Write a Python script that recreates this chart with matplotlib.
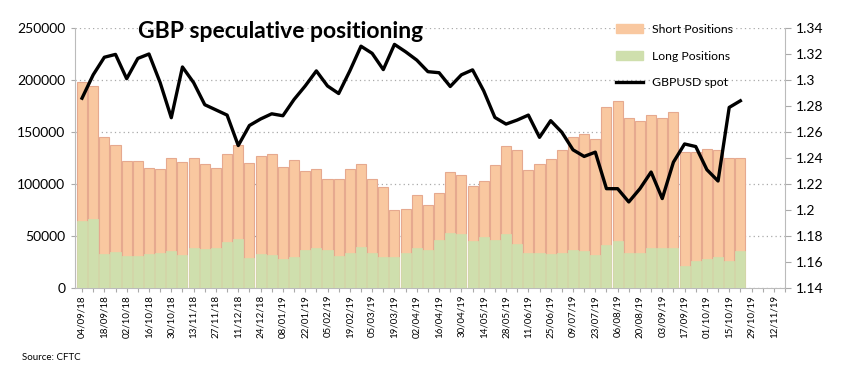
import numpy as np
import matplotlib
matplotlib.use("Agg")
import matplotlib.pyplot as plt
from matplotlib.patches import Patch
from matplotlib.lines import Line2D

plt.rcParams['font.family'] = ['Lato', 'DejaVu Sans']

# weekly CFTC data, 04/09/18 onwards
short_pos = [198400, 194300, 145500, 137300, 122000, 122000, 115000, 114300, 124900, 121000,
             124900, 119100, 115300, 128400, 137600, 120100, 127400, 128400, 116300, 122900,
             112400, 114300, 104800, 104800, 114300, 118800, 104800, 96800, 74800, 75800,
             89500, 79900, 91400, 111100, 108900, 98100, 102900, 118500, 136300, 132800,
             113700, 119100, 123900, 132800, 145500, 148100, 143000, 173600, 180000, 163400,
             160200, 166300, 163400, 168800, 130300, 131200, 133800, 132800, 124900, 124900]

long_pos = [64000, 65900, 32800, 34700, 30900, 30900, 32800, 34100, 36000, 32200,
            38500, 37600, 38500, 44300, 47000, 29200, 33000, 32000, 28000, 30000,
            36400, 38600, 36400, 30600, 33200, 39500, 33800, 30000, 30000, 33200,
            38000, 36400, 46600, 53000, 52300, 45500, 49200, 46200, 51900, 42000,
            33400, 33400, 32800, 33400, 36600, 36000, 31900, 41400, 45200, 34100,
            34100, 38200, 38200, 38200, 21300, 25500, 28000, 29600, 26100, 36000]

gbpusd = [1.286, 1.304, 1.3175, 1.3197, 1.301, 1.3166, 1.320, 1.298, 1.271, 1.310,
          1.298, 1.281, 1.277, 1.273, 1.2496, 1.265, 1.270, 1.274, 1.2725, 1.285,
          1.2954, 1.307, 1.2954, 1.2896, 1.307, 1.326, 1.3205, 1.308, 1.3274, 1.3217,
          1.3153, 1.3064, 1.3056, 1.295, 1.3040, 1.3078, 1.2916, 1.2712, 1.2661, 1.2692,
          1.273, 1.2559, 1.2687, 1.2598, 1.2463, 1.2412, 1.2445, 1.2164, 1.2164, 1.2062,
          1.2164, 1.2292, 1.2088, 1.2368, 1.2508, 1.2488, 1.231, 1.2223, 1.2789, 1.284]

date_labels = ["04/09/18", "18/09/18", "02/10/18", "16/10/18", "30/10/18", "13/11/18",
               "27/11/18", "11/12/18", "24/12/18", "08/01/19", "22/01/19", "05/02/19",
               "19/02/19", "05/03/19", "19/03/19", "02/04/19", "16/04/19", "30/04/19",
               "14/05/19", "28/05/19", "11/06/19", "25/06/19", "09/07/19", "23/07/19",
               "06/08/19", "20/08/19", "03/09/19", "17/09/19", "01/10/19", "15/10/19",
               "29/10/19", "12/11/19"]

n_slots = 64
x = np.arange(len(short_pos))

fig = plt.figure(figsize=(8.5, 3.83), dpi=100)
ax = fig.add_axes([75/850, 1-288/383, 710/850, 260/383])
ax2 = ax.twinx()

short_c = '#F9C8A0'
long_c = '#CFDFAD'
edge_c = '#E6A98F'

ax.bar(x, short_pos, width=0.9, color=short_c, edgecolor=edge_c, linewidth=0.8, zorder=2)
ax.bar(x, long_pos, width=0.9, color=long_c, edgecolor=long_c, linewidth=0.5, zorder=3)
ax2.plot(x, gbpusd, color='black', linewidth=2.4, zorder=5)

ax.set_xlim(-0.63, 63.0)
ax.set_ylim(0, 250000)
ax.set_yticks(np.arange(0, 250001, 50000))
ax.yaxis.grid(True, linestyle=(0, (1, 2.5)), color='#AAAAAA', linewidth=0.9)
ax.set_axisbelow(True)
ax2.set_ylim(1.14, 1.34)
ax2.set_yticks(np.arange(1.14, 1.3401, 0.02))
ax2.set_yticklabels([f"{v:g}" for v in np.round(np.arange(1.14, 1.3401, 0.02), 2)])

ticks = np.arange(n_slots)
labels = [date_labels[i // 2] if i % 2 == 0 and i // 2 < len(date_labels) else '' for i in ticks]
ax.set_xticks(ticks)
ax.set_xticklabels(labels, rotation=90, fontsize=7)
ax.tick_params(axis='x', length=3, color='#AAAAAA', pad=2)
ax.tick_params(axis='y', labelsize=10, length=3, color='#AAAAAA', pad=4)
ax2.tick_params(axis='y', labelsize=10, length=4, color='#AAAAAA', pad=4)

for a in (ax, ax2):
    a.spines['top'].set_visible(False)
    for s in ('left', 'right', 'bottom'):
        a.spines[s].set_color('#BBBBBB')
ax.spines['right'].set_visible(False)
ax2.spines['left'].set_visible(False)
ax2.spines['bottom'].set_visible(False)

handles = [Patch(facecolor=short_c, edgecolor=short_c),
           Patch(facecolor=long_c, edgecolor=long_c),
           Line2D([], [], color='black', linewidth=2.4)]
fig.legend(handles, ["Short Positions", "Long Positions", "GBPUSD spot"],
           loc='upper left', bbox_to_anchor=(612/850, 1-20/383), frameon=False,
           fontsize=8.8, labelspacing=1.3, handlelength=2.2, handleheight=0.7,
           handletextpad=0.8, borderaxespad=0, borderpad=0.3)

fig.text(138/850, 1-31/383, "GBP speculative positioning", fontsize=16.5,
         fontweight='bold', va='center', ha='left')
fig.text(22/850, 1-357/383, "Source: CFTC", fontsize=7, va='center', ha='left')

fig.savefig("out.png", dpi=100)
